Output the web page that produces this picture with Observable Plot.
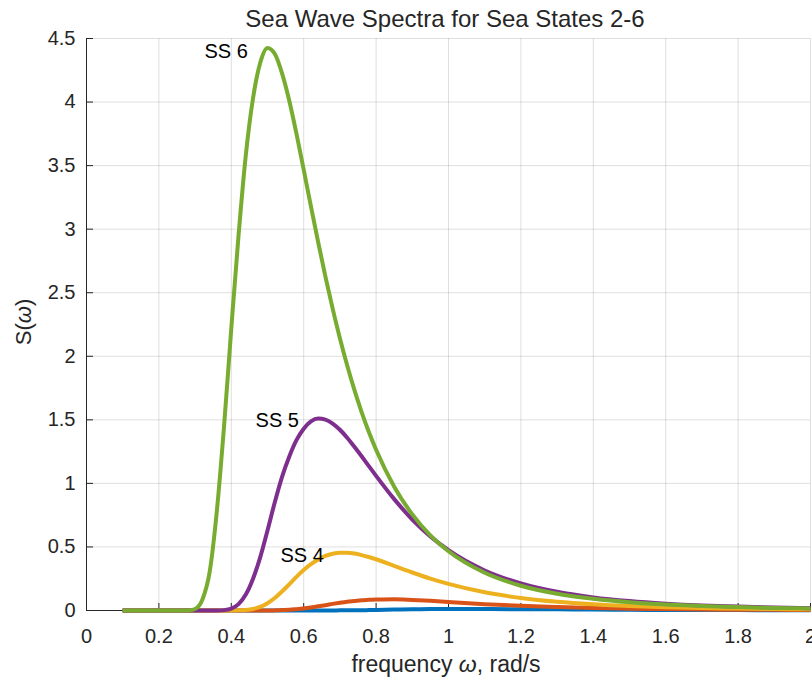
<!DOCTYPE html>
<html><head><meta charset="utf-8">
<script src="https://cdn.jsdelivr.net/npm/d3@7"></script>
<script src="https://cdn.jsdelivr.net/npm/@observablehq/plot@0.6"></script>
<style>
body{margin:0;background:#fff;font-family:"Liberation Sans",Arial,sans-serif;}
#wrap{position:relative;width:812px;height:684px;overflow:hidden;background:#fff}
#wrap svg{position:absolute;left:0;top:0;overflow:visible}
.lbl{position:absolute;color:#262626;white-space:nowrap;line-height:1}
#title{left:445px;top:7px;font-size:24px;transform:translateX(-50%)}
#xlabel{left:446px;top:653px;font-size:23px;transform:translateX(-50%)}
#ylabel{left:24px;top:322px;font-size:22px;transform:translate(-50%,-50%) rotate(-90deg)}
</style></head><body>
<div id="wrap">
<div class="lbl" id="title">Sea Wave Spectra for Sea States 2-6</div>
<div class="lbl" id="xlabel">frequency <i>ω</i>, rad/s</div>
<div class="lbl" id="ylabel">S(<i>ω</i>)</div>
</div>
<script>
// frequency grid (rad/s)
const omega = [0.1, 0.2, 0.25, 0.28, 0.30, 0.32, 0.34, 0.36, 0.38, 0.40, 0.42, 0.44, 0.46, 0.48, 0.50, 0.52, 0.54, 0.56, 0.58, 0.60, 0.62, 0.64, 0.66, 0.68, 0.70, 0.72, 0.74, 0.76, 0.78, 0.80, 0.85, 0.90, 0.95, 1.00, 1.10, 1.20, 1.30, 1.40, 1.50, 1.60, 1.70, 1.80, 1.90, 2.00];
// spectra S(omega) per sea state
const ss2 = [0,0,0,0,0,0,0,0,0,0,0,0,0,0,0,0,0,0,0,0,0,0,0, 0.000, 0.001, 0.001, 0.002, 0.002, 0.003, 0.004, 0.007, 0.009, 0.011, 0.012, 0.012, 0.010, 0.009, 0.007, 0.005, 0.004, 0.003, 0.003, 0.002, 0.002];
const ss3 = [0,0,0,0,0,0,0,0,0,0,0,0,0,0, 0.000, 0.001, 0.003, 0.005, 0.010, 0.016, 0.024, 0.033, 0.042, 0.052, 0.061, 0.069, 0.075, 0.081, 0.084, 0.087, 0.088, 0.083, 0.076, 0.067, 0.050, 0.037, 0.027, 0.019, 0.014, 0.011, 0.008, 0.006, 0.005, 0.004];
const ss4 = [0,0,0,0,0,0,0,0,0,0, 0.001, 0.004, 0.012, 0.028, 0.057, 0.098, 0.149, 0.206, 0.264, 0.318, 0.364, 0.402, 0.429, 0.446, 0.454, 0.454, 0.448, 0.436, 0.421, 0.403, 0.351, 0.299, 0.251, 0.209, 0.143, 0.099, 0.069, 0.049, 0.035, 0.026, 0.019, 0.015, 0.011, 0.009];
const ss5 = [0,0,0,0,0,0,0,0, 0.003, 0.015, 0.050, 0.125, 0.250, 0.420, 0.630, 0.850, 1.050, 1.210, 1.340, 1.430, 1.488, 1.510, 1.502, 1.471, 1.422, 1.359, 1.288, 1.213, 1.136, 1.059, 0.876, 0.716, 0.583, 0.474, 0.315, 0.213, 0.147, 0.103, 0.074, 0.054, 0.040, 0.031, 0.023, 0.018];
const ss6 = [0,0,0,0, 0.012, 0.085, 0.300, 0.780, 1.450, 2.220, 2.950, 3.580, 4.030, 4.310, 4.425, 4.380, 4.228, 4.012, 3.751, 3.468, 3.179, 2.897, 2.627, 2.375, 2.142, 1.929, 1.735, 1.561, 1.404, 1.264, 0.974, 0.756, 0.591, 0.466, 0.297, 0.195, 0.132, 0.092, 0.065, 0.048, 0.035, 0.027, 0.020, 0.016];
const seriesNames = ["SS 2", "SS 3", "SS 4", "SS 5", "SS 6"];
// annotations
const labelText = ["SS 6", "SS 5", "SS 4"];
const labelX = [0.326, 0.467, 0.536];
const labelY = [4.40, 1.495, 0.433];
// ticks
const xTicks = [0, 0.2, 0.4, 0.6, 0.8, 1, 1.2, 1.4, 1.6, 1.8, 2];
const xTickLabels = ["0", "0.2", "0.4", "0.6", "0.8", "1", "1.2", "1.4", "1.6", "1.8", "2"];
const yTicks = [0, 0.5, 1, 1.5, 2, 2.5, 3, 3.5, 4, 4.5];
const yTickLabels = ["0", "0.5", "1", "1.5", "2", "2.5", "3", "3.5", "4", "4.5"];

const colors = ["#0072BD", "#D95319", "#EDB120", "#7E2F8E", "#77AC30"];
const allSeries = [ss2, ss3, ss4, ss5, ss6];
const lineMarks = allSeries.map((vals, k) =>
  Plot.line(omega.map((w, j) => ({omega: w, S: vals[j], series: seriesNames[k]})),
    {x: "omega", y: "S", stroke: colors[k], strokeWidth: 4, curve: "monotone-x", strokeLinejoin: "round", strokeLinecap: "butt"}));
const labels = labelText.map((t, i) => ({t, x: labelX[i], y: labelY[i]}));
const axisColor = "#262626";

const chart = Plot.plot({
  width: 812, height: 684,
  marginLeft: 86, marginRight: 2, marginTop: 38, marginBottom: 74,
  x: {domain: [0, 2]},
  y: {domain: [0, 4.5]},
  style: {fontFamily: "'Liberation Sans', Arial, sans-serif", fontSize: "20px", color: axisColor, background: "transparent", overflow: "visible"},
  marks: [
    Plot.gridX(xTicks, {stroke: axisColor, strokeOpacity: 0.15, strokeWidth: 1}),
    Plot.gridY(yTicks, {stroke: axisColor, strokeOpacity: 0.15, strokeWidth: 1}),
    Plot.axisX(xTicks, {tickSize: -7, tickPadding: 25, tickFormat: d => xTickLabels[xTicks.indexOf(d)], label: null, fontSize: 20, stroke: axisColor, fill: axisColor}),
    Plot.axisY(yTicks, {tickSize: -7, tickPadding: 18, tickFormat: d => yTickLabels[yTicks.indexOf(d)], label: null, fontSize: 20, stroke: axisColor, fill: axisColor}),
    Plot.ruleX([0], {stroke: axisColor, strokeWidth: 1}),
    Plot.ruleY([0], {stroke: axisColor, strokeWidth: 1}),
    ...lineMarks,
    Plot.text(labels, {x: "x", y: "y", text: "t", textAnchor: "start", fontSize: 20, fill: "#000"})
  ]
});
document.getElementById("wrap").prepend(chart);
</script>
</body></html>
